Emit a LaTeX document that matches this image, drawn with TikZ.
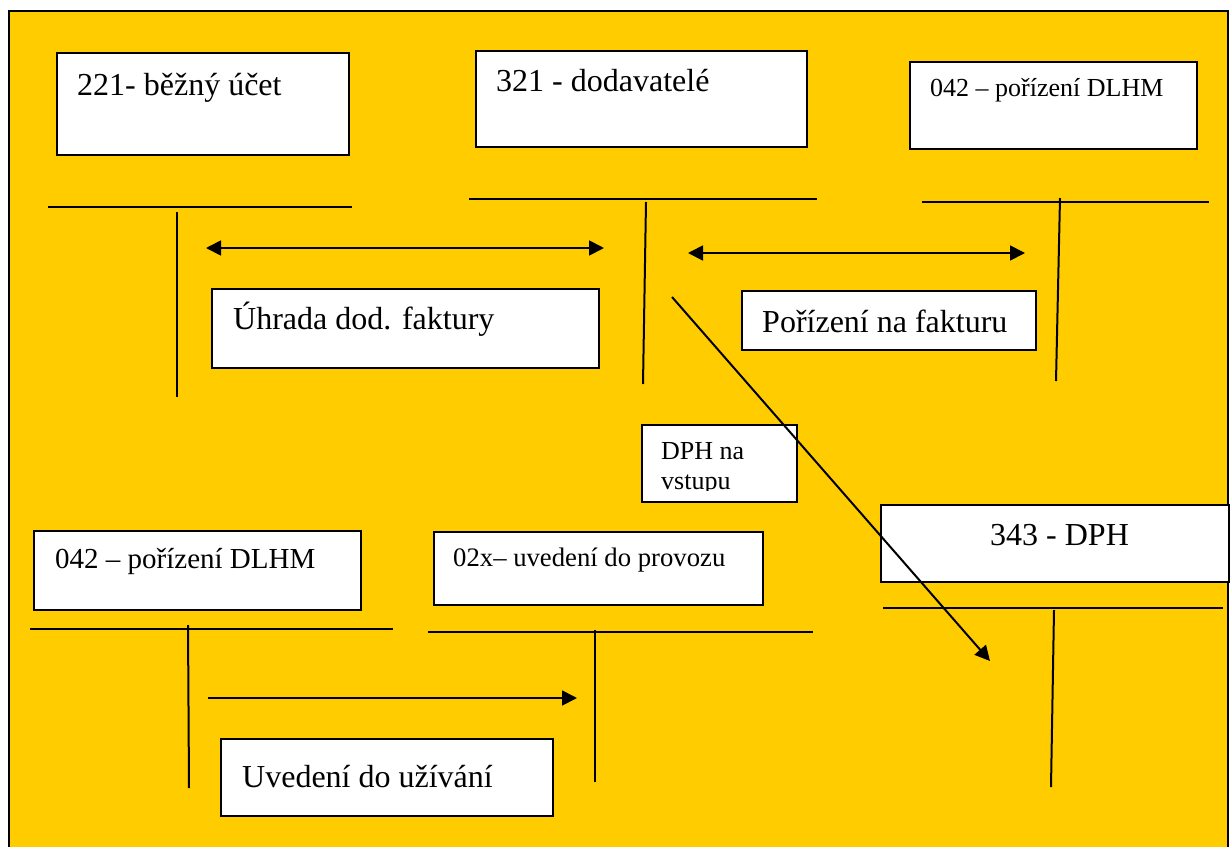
\documentclass[tikz,border=0pt]{standalone}
\usepackage{fontspec}
\setmainfont{Liberation Serif}
\usetikzlibrary{arrows.meta,calc}

\definecolor{sheet}{HTML}{FFCC00}

\tikzset{
  acct/.style={draw=black, line width=1.5pt, fill=white, anchor=north west, inner sep=0pt},
  lbl/.style={anchor=base west, inner sep=0pt, font=\fontsize{32}{36}\selectfont},
  lblsmall/.style={anchor=base west, inner sep=0pt, font=\fontsize{26}{30}\selectfont},
  tline/.style={line width=2pt, line cap=butt},
  flow/.style={line width=1.8pt, -{Triangle[length=15pt,width=15pt]}},
  flowboth/.style={line width=1.8pt, {Triangle[length=15pt,width=15pt]}-{Triangle[length=15pt,width=15pt]}}
}

\begin{document}
\begin{tikzpicture}[x=1pt,y=-1pt]
\useasboundingbox (0,0) rectangle (1231,846);

% sheet
\path[fill=sheet, draw=black, line width=2pt] (9,11) rectangle (1228,860);

% ---- top row: account title boxes
\node[acct, minimum width=292pt, minimum height=102pt] (b221) at (56,52) {};
\node[lbl] (t221) at (77,95) {221- běžný účet};

\node[acct, minimum width=331pt, minimum height=96pt] (b321) at (475,50) {};
\node[lbl] (t321) at (496,91) {321 - dodavatelé};

\node[acct, minimum width=287pt, minimum height=87pt] (b042a) at (909,61) {};
\node[lblsmall] (t042a) at (930,96) {042 – pořízení DLHM};

% ---- top row: T-accounts
\coordinate (h221l) at (48,207);  \coordinate (h221r) at (352,207);
\coordinate (v221t) at (177,212); \coordinate (v221b) at (177,397);
\draw[tline] (h221l) -- (h221r);
\draw[tline] (v221t) -- (v221b);

\coordinate (h321l) at (469,199); \coordinate (h321r) at (817,199);
\coordinate (v321t) at (646,202); \coordinate (v321b) at (643,384);
\draw[tline] (h321l) -- (h321r);
\draw[tline] (v321t) -- (v321b);

\coordinate (h042l) at (922,202); \coordinate (h042r) at (1209,202);
\coordinate (v042t) at (1060,198); \coordinate (v042b) at (1056,381);
\draw[tline] (h042l) -- (h042r);
\draw[tline] (v042t) -- (v042b);

% ---- top row: transactions
\coordinate (p1a) at (206,248); \coordinate (p1b) at (604,248);
\draw[flowboth] (p1a) -- (p1b);
\node[acct, minimum width=387pt, minimum height=79pt] (bUh) at (211,288) {};
\node[lbl] (tUh) at (233,329) {Úhrada dod. faktury};

\coordinate (p2a) at (688,253); \coordinate (p2b) at (1025,253);
\draw[flowboth] (p2a) -- (p2b);
\node[acct, minimum width=294pt, minimum height=59pt] (bPo) at (741,290) {};
\node[lbl] (tPo) at (762,332) {Pořízení na fakturu};

% ---- VAT note box (text cut at the lower edge)
\node[acct, minimum width=155pt, minimum height=77pt] (bDPHn) at (641,424) {};
\begin{scope}
  \clip (642,425) rectangle (795,490);
  \node[lblsmall] (tDPHn1) at (661,459) {DPH na};
  \node[lblsmall] (tDPHn2) at (661,489) {vstupu};
\end{scope}

% ---- 343 account
\node[acct, line width=2pt, minimum width=348pt, minimum height=77pt] (b343) at (880,504) {};
\node[lbl] (t343) at (990,545) {343 - DPH};
\coordinate (h343l) at (883,608); \coordinate (h343r) at (1223,608);
\coordinate (v343t) at (1054,610); \coordinate (v343b) at (1051,787);
\draw[tline] (h343l) -- (h343r);
\draw[tline] (v343t) -- (v343b);

% ---- bottom row
\node[acct, minimum width=327pt, minimum height=79pt] (b042b) at (33,530) {};
\node[lbl, font=\fontsize{29}{33}\selectfont] (t042b) at (55,568) {042 – pořízení DLHM};

\node[acct, minimum width=329pt, minimum height=73pt] (b02x) at (433,531) {};
\node[lbl, font=\fontsize{26.7}{31}\selectfont] (t02x) at (453,566) {02x– uvedení do provozu};

\coordinate (h042bl) at (30,629); \coordinate (h042br) at (393,629);
\coordinate (v042bt) at (188,625); \coordinate (v042bb) at (189,788);
\draw[tline] (h042bl) -- (h042br);
\draw[tline] (v042bt) -- (v042bb);

\coordinate (h02xl) at (428,632); \coordinate (h02xr) at (813,632);
\coordinate (v02xt) at (595,630); \coordinate (v02xb) at (595,782);
\draw[tline] (h02xl) -- (h02xr);
\draw[tline] (v02xt) -- (v02xb);

\coordinate (p3a) at (208,698); \coordinate (p3b) at (577,698);
\draw[flow] (p3a) -- (p3b);
\node[acct, minimum width=332pt, minimum height=77pt] (bUv) at (220,738) {};
\node[lbl] (tUv) at (242,787) {Uvedení do užívání};

% ---- VAT transfer, drawn over the boxes
\coordinate (d1) at (672,297); \coordinate (d2) at (990,661);
\draw[flow, line width=2pt] (d1) -- (d2);
\end{tikzpicture}
\end{document}
